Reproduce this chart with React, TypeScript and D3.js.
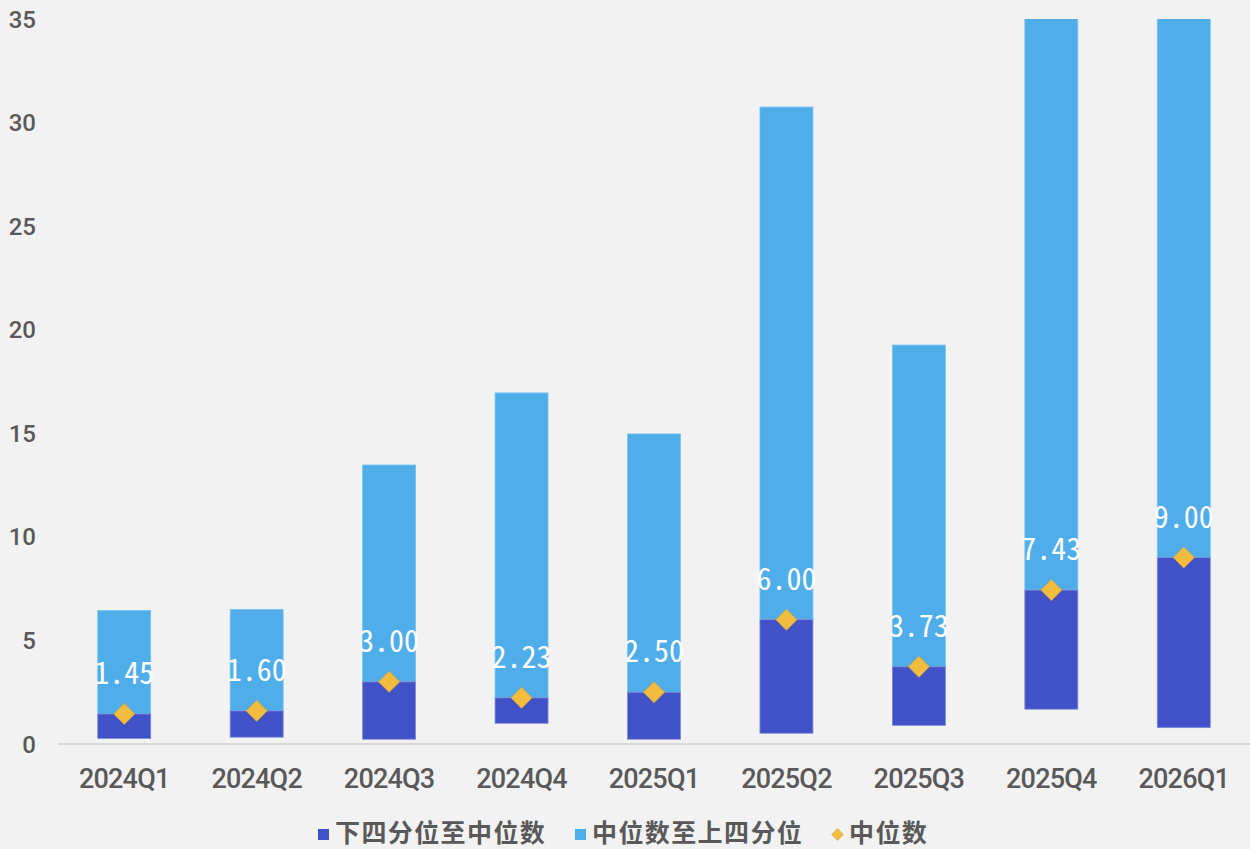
import { useEffect, useRef } from "react";
import * as d3 from "d3";

// quarters on the x axis
const quarters = ["2024Q1", "2024Q2", "2024Q3", "2024Q4", "2025Q1", "2025Q2", "2025Q3", "2025Q4", "2026Q1"];
// lower quartile, median, upper quartile
const lowerQuartile = [0.27, 0.33, 0.23, 1.0, 0.23, 0.52, 0.9, 1.68, 0.79];
const medianValues = [1.45, 1.6, 3.0, 2.23, 2.5, 6.0, 3.73, 7.43, 9.0];
const upperQuartile = [6.45, 6.5, 13.47, 16.95, 14.97, 30.75, 19.26, 40, 40];
const yTicks = [0, 5, 10, 15, 20, 25, 30, 35];
const legendLabels = ["下四分位至中位数", "中位数至上四分位", "中位数"];

const W = 1250;
const H = 849;

export default function App() {
  const ref = useRef<SVGSVGElement>(null);

  useEffect(() => {
    const svg = d3.select(ref.current);
    svg.selectAll("*").remove();

    svg.append("rect").attr("width", W).attr("height", H).attr("fill", "#f2f2f2");

    const x = d3.scaleBand<string>().domain(quarters).range([58, 1250]).paddingInner(0.6).paddingOuter(0.3);
    const y = d3.scaleLinear().domain([0, 35]).range([744, 19]);

    svg.append("defs").append("clipPath").attr("id", "plot")
      .append("rect").attr("x", 0).attr("y", y(35)).attr("width", W).attr("height", y(0) - y(35));

    // y tick labels
    svg.append("g").selectAll("text").data(yTicks).enter().append("text")
      .attr("x", 36).attr("y", (d) => y(d)).attr("dy", "0.36em")
      .attr("text-anchor", "end")
      .attr("font-family", "Roboto, 'Noto Sans', sans-serif")
      .attr("font-size", 24).attr("font-weight", 500).attr("fill", "#595959")
      .text((d) => d);

    const rows = quarters.map((q, i) => ({
      q, lo: lowerQuartile[i], med: medianValues[i], hi: upperQuartile[i],
    }));

    const bars = svg.append("g").attr("clip-path", "url(#plot)");
    // median → upper quartile
    bars.selectAll(".up").data(rows).enter().append("rect")
      .attr("x", (d) => x(d.q)!).attr("width", x.bandwidth())
      .attr("y", (d) => y(d.hi)).attr("height", (d) => y(d.med) - y(d.hi))
      .attr("fill", "#4faeea").attr("stroke", "#7cc3ef").attr("stroke-width", 0.8);
    // lower quartile → median
    bars.selectAll(".low").data(rows).enter().append("rect")
      .attr("x", (d) => x(d.q)!).attr("width", x.bandwidth())
      .attr("y", (d) => y(d.med)).attr("height", (d) => y(d.lo) - y(d.med))
      .attr("fill", "#4152c8").attr("stroke", "#7d8ad8").attr("stroke-width", 0.8);

    // axis line
    svg.append("line").attr("x1", 58).attr("x2", 1250).attr("y1", y(0)).attr("y2", y(0))
      .attr("stroke", "#d9d9d9").attr("stroke-width", 2);

    // median diamonds
    const diamond = d3.symbol().type(d3.symbolSquare).size(220);
    svg.append("g").selectAll("path").data(rows).enter().append("path")
      .attr("d", diamond)
      .attr("transform", (d) => `translate(${x(d.q)! + x.bandwidth() / 2},${y(d.med)}) rotate(45)`)
      .attr("fill", "#f2bd3f").attr("stroke", "#d9a53a").attr("stroke-width", 0.8);

    // median labels
    svg.append("g").selectAll("text").data(rows).enter().append("text")
      .attr("x", (d) => x(d.q)! + x.bandwidth() / 2).attr("y", (d) => y(d.med) - 30)
      .attr("text-anchor", "middle")
      .attr("font-family", "'Noto Sans Mono CJK SC', 'DejaVu Sans Mono', monospace")
      .attr("font-size", 30).attr("fill", "#ffffff")
      .text((d) => d.med.toFixed(2));

    // x labels
    svg.append("g").selectAll("text").data(quarters).enter().append("text")
      .attr("x", (d) => x(d)! + x.bandwidth() / 2).attr("y", 778).attr("dy", "0.36em")
      .attr("text-anchor", "middle")
      .attr("font-family", "Roboto, 'Noto Sans', sans-serif")
      .attr("font-size", 27).attr("font-weight", 500).attr("letter-spacing", -0.8).attr("fill", "#595959")
      .text((d) => d);

    // legend
    const legendColors = ["#4152c8", "#4faeea", "#f2bd3f"];
    const legendX = [318, 575, 832];
    const lg = svg.append("g").attr("font-family", "'Noto Sans CJK SC', sans-serif")
      .attr("font-size", 25).attr("font-weight", 700).attr("fill", "#595959");
    legendLabels.forEach((label, i) => {
      if (i < 2) {
        lg.append("rect").attr("x", legendX[i]).attr("y", 829).attr("width", 11).attr("height", 11)
          .attr("fill", legendColors[i]);
      } else {
        lg.append("path").attr("d", d3.symbol().type(d3.symbolSquare).size(70)!)
          .attr("transform", `translate(${legendX[i] + 5.5},834.5) rotate(45)`)
          .attr("fill", legendColors[i]).attr("stroke", "#d9a53a").attr("stroke-width", 0.6);
      }
      lg.append("text").attr("x", legendX[i] + 17).attr("y", 833).attr("dy", "0.36em")
        .attr("letter-spacing", 1.4).text(label);
    });
  }, []);

  return (
    <svg ref={ref} width={W} height={H}
      style={{ position: "absolute", left: 0, top: 0, display: "block" }} />
  );
}
